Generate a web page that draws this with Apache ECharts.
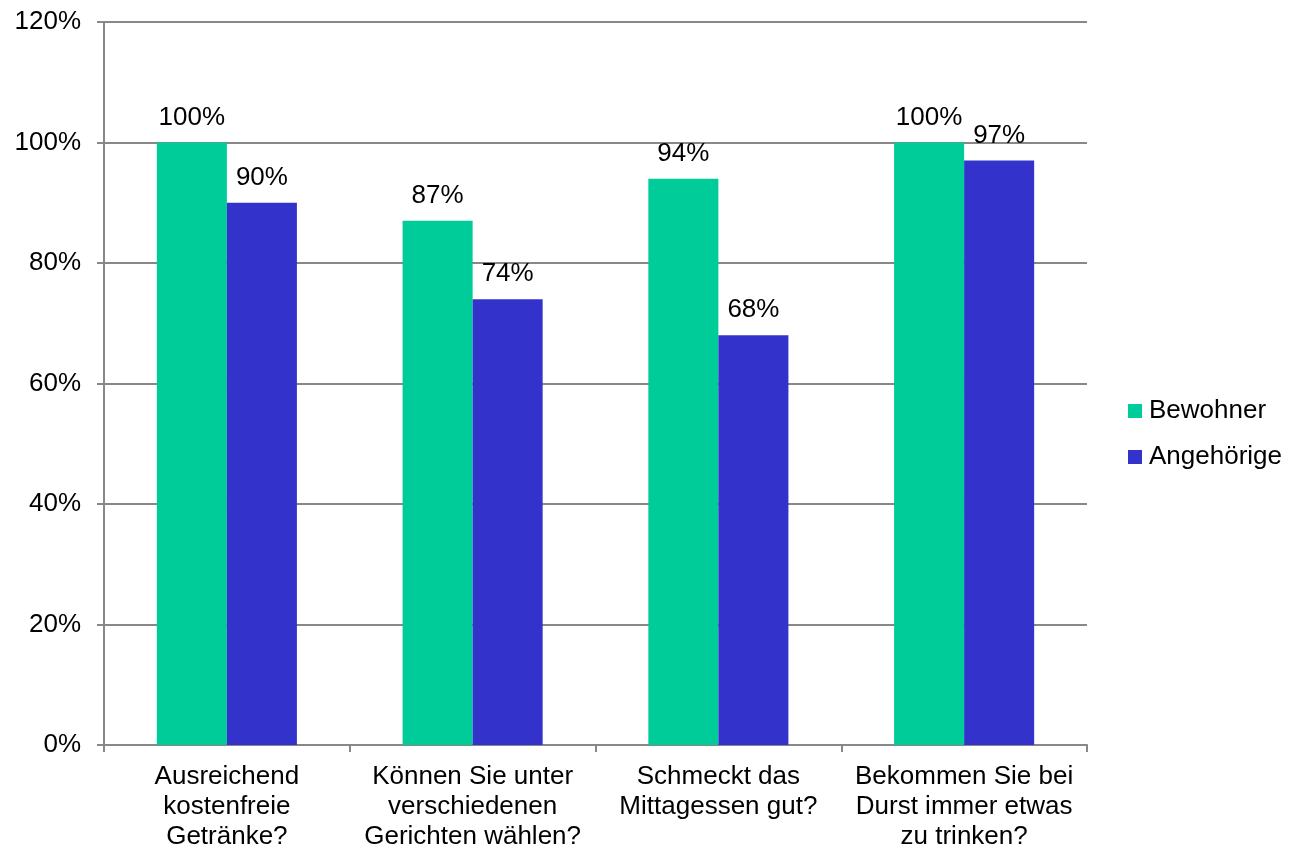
<!DOCTYPE html>
<html><head><meta charset="utf-8">
<script src="https://cdn.jsdelivr.net/npm/echarts@6/dist/echarts.min.js"></script>
<style>html,body{margin:0;padding:0;background:#fff}#c{width:1293px;height:854px}</style>
</head><body><div id="c"></div>
<script>
const categories = [
  "Ausreichend\nkostenfreie\nGetränke?",
  "Können Sie unter\nverschiedenen\nGerichten wählen?",
  "Schmeckt das\nMittagessen gut?",
  "Bekommen Sie bei\nDurst immer etwas\nzu trinken?"
];
const seriesNames = ["Bewohner", "Angehörige"];
const bewohner = [100, 87, 94, 100];
const angehoerige = [90, 74, 68, 97];
const FONT = "'Liberation Sans', Arial, sans-serif";
const chart = echarts.init(document.getElementById('c'));
const lbl = {show:true, position:'top', distance:12, formatter:'{c}%', color:'#000', fontSize:26, fontFamily:FONT};
chart.setOption({
  animation:false,
  textStyle:{fontFamily:FONT},
  grid:{left:104, right:206, top:22, bottom:109, containLabel:false},
  legend:{orient:'vertical', left:1128, top:398, padding:0, itemWidth:14, itemHeight:14, itemGap:20,
    icon:'rect', textStyle:{fontSize:26, color:'#000', fontFamily:FONT, padding:[0,0,0,2]},
    data:seriesNames},
  xAxis:{type:'category', data:categories,
    axisLine:{lineStyle:{color:'#888', width:2}},
    axisTick:{show:true, length:7, lineStyle:{color:'#888', width:2}},
    axisLabel:{color:'#000', fontSize:26, lineHeight:30, margin:17, interval:0, fontFamily:FONT}},
  yAxis:{type:'value', min:0, max:120, interval:20,
    axisLine:{show:true, lineStyle:{color:'#888', width:2}},
    axisTick:{show:true, length:7, lineStyle:{color:'#888', width:2}},
    splitLine:{lineStyle:{color:'#888', width:2}},
    axisLabel:{formatter:'{value}%', color:'#000', fontSize:26, margin:23, fontFamily:FONT}},
  series:[
    {name:seriesNames[0], type:'bar', data:bewohner, barGap:'0%', barCategoryGap:'43%',
      itemStyle:{color:'#00CC99'}, label:lbl},
    {name:seriesNames[1], type:'bar', data:angehoerige, barGap:'0%', barCategoryGap:'43%',
      itemStyle:{color:'#3333CC'}, label:lbl}
  ]
});
</script></body></html>
